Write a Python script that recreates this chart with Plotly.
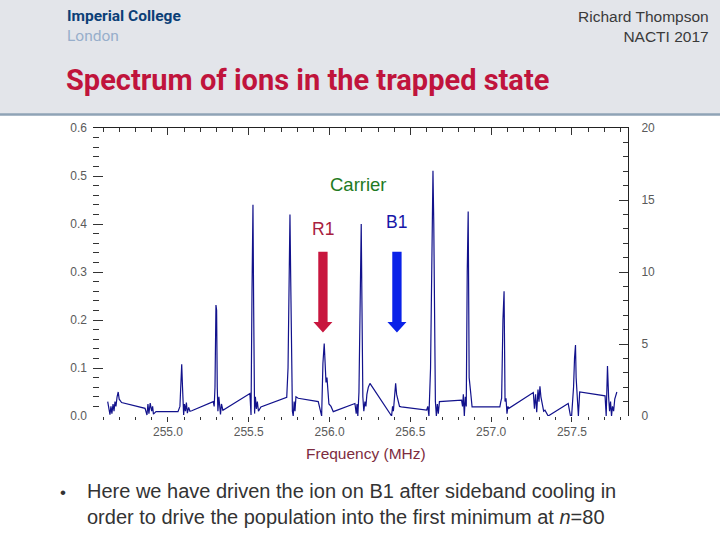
import plotly.graph_objects as go

# ---- data ----
freq_mhz = [
    254.627, 254.641, 254.647, 254.653, 254.660, 254.666, 254.672, 254.678, 254.685, 254.692,
    254.698, 254.713, 254.858, 254.870, 254.876, 254.882, 254.890, 254.899, 254.905, 254.910,
    254.926, 255.062, 255.074, 255.080, 255.085, 255.090, 255.093, 255.097, 255.102, 255.108,
    255.114, 255.120, 255.128, 255.136, 255.147, 255.280, 255.286, 255.291, 255.297, 255.301,
    255.305, 255.309, 255.315, 255.319, 255.325, 255.331, 255.340, 255.507, 255.514, 255.520,
    255.526, 255.530, 255.536, 255.541, 255.547, 255.553, 255.560, 255.575, 255.735, 255.743,
    255.749, 255.755, 255.759, 255.765, 255.770, 255.775, 255.781, 255.786, 255.792, 255.806,
    255.930, 255.951, 255.959, 255.967, 255.972, 255.978, 255.984, 255.990, 255.996, 256.009,
    256.023, 256.157, 256.165, 256.170, 256.175, 256.182, 256.190, 256.196, 256.200, 256.206,
    256.212, 256.219, 256.225, 256.231, 256.240, 256.250, 256.384, 256.390, 256.395, 256.402,
    256.409, 256.415, 256.423, 256.433, 256.444, 256.601, 256.608, 256.615, 256.625, 256.633,
    256.640, 256.645, 256.650, 256.655, 256.661, 256.667, 256.673, 256.680, 256.817, 256.823,
    256.828, 256.834, 256.840, 256.846, 256.852, 256.858, 256.864, 256.870, 256.876, 256.882,
    257.054, 257.060, 257.065, 257.073, 257.080, 257.086, 257.092, 257.098, 257.104, 257.110,
    257.261, 257.268, 257.275, 257.282, 257.290, 257.296, 257.302, 257.308, 257.316, 257.325,
    257.333, 257.353, 257.477, 257.485, 257.491, 257.498, 257.510, 257.516, 257.522, 257.526,
    257.530, 257.535, 257.540, 257.548, 257.705, 257.712, 257.720, 257.727, 257.733, 257.739,
    257.745, 257.751, 257.758, 257.765, 257.778,
]
signal = [
    0.030, 0.003, 0.020, 0.005, 0.025, 0.010, 0.030, 0.020, 0.040, 0.050,
    0.035, 0.028, 0.016, 0.002, 0.025, 0.005, 0.027, 0.010, 0.020, 0.004,
    0.009, 0.009, 0.020, 0.080, 0.108, 0.060, 0.020, 0.002, 0.025, 0.010,
    0.028, 0.006, 0.018, 0.010, 0.011, 0.030, 0.020, 0.060, 0.231, 0.220,
    0.060, 0.010, 0.040, 0.028, 0.003, 0.025, 0.012, 0.047, 0.002, 0.260,
    0.440, 0.240, 0.005, 0.040, 0.015, 0.030, 0.010, 0.019, 0.039, 0.100,
    0.360, 0.420, 0.300, 0.050, 0.010, 0.000, 0.030, 0.010, 0.040, 0.037,
    0.030, 0.000, 0.110, 0.151, 0.110, 0.070, 0.080, 0.040, 0.025, 0.020,
    0.009, 0.026, 0.005, 0.025, 0.000, 0.050, 0.340, 0.400, 0.250, 0.040,
    0.010, 0.030, 0.020, 0.045, 0.060, 0.068, 0.000, 0.020, 0.010, 0.050,
    0.068, 0.045, 0.030, 0.020, 0.019, 0.0125, 0.020, 0.000, 0.100, 0.400,
    0.511, 0.400, 0.060, 0.030, 0.000, 0.025, 0.005, 0.030, 0.033, 0.020,
    0.045, 0.000, 0.040, 0.020, 0.300, 0.426, 0.080, 0.050, 0.040, 0.019,
    0.019, 0.030, 0.037, 0.200, 0.260, 0.030, 0.037, 0.005, 0.020, 0.016,
    0.049, 0.015, 0.045, 0.008, 0.055, 0.030, 0.062, 0.040, 0.025, 0.010,
    0.012, 0.000, 0.026, 0.010, 0.000, 0.000, 0.060, 0.120, 0.148, 0.080,
    0.047, 0.030, 0.000, 0.050, 0.042, 0.000, 0.104, 0.040, 0.010, 0.030,
    0.000, 0.020, 0.010, 0.035, 0.050,
]
x_tick_vals = [255.0, 255.5, 256.0, 256.5, 257.0, 257.5]
x_tick_text = ["255.0", "255.5", "256.0", "256.5", "257.0", "257.5"]
left_tick_vals = [0.0, 0.1, 0.2, 0.3, 0.4, 0.5, 0.6]
left_tick_text = ["0.0", "0.1", "0.2", "0.3", "0.4", "0.5", "0.6"]
right_tick_vals = [0, 5, 10, 15, 20]
right_tick_text = ["0", "5", "10", "15", "20"]

R1_FREQ = 255.959
B1_FREQ = 256.417
CARRIER_FREQ = 256.176

W, H = 720, 540
def px(x):
    return x / W
def py(y):
    return 1 - y / H

X_RANGE = [254.536, 257.847]
TICKFONT = dict(family="Liberation Sans, Arial, sans-serif", size=12, color="#5a5a5a")
ARIAL = "Liberation Sans, Arial, sans-serif"

fig = go.Figure()
fig.add_trace(go.Scatter(
    x=freq_mhz, y=signal, mode="lines",
    line=dict(color="#12128c", width=1.2),
    hoverinfo="skip", showlegend=False,
))
# empty trace so the mirrored top/right axes get drawn
fig.add_trace(go.Scatter(
    x=[None], y=[None], xaxis="x2", yaxis="y2", mode="lines",
    hoverinfo="skip", showlegend=False,
))

xdom = [px(93), px(628)]
ydom = [py(416), py(128)]

fig.update_layout(
    width=W, height=H,
    margin=dict(l=0, r=0, t=0, b=0, pad=0),
    paper_bgcolor="white", plot_bgcolor="white",
    showlegend=False,
    xaxis=dict(
        domain=xdom, range=X_RANGE, anchor="y",
        tickvals=x_tick_vals, ticktext=x_tick_text,
        ticks="outside", ticklen=5, tickcolor="#333", tickwidth=1,
        minor=dict(dtick=0.1, tick0=255.0, ticks="outside", ticklen=3, tickcolor="#333"),
        showline=False, showgrid=False, zeroline=False,
        tickfont=TICKFONT, automargin=False,
    ),
    xaxis2=dict(
        domain=xdom, range=X_RANGE, overlaying="x", side="top", anchor="y2",
        tickvals=x_tick_vals, ticks="inside", ticklen=7, tickcolor="#333",
        minor=dict(dtick=0.1, tick0=255.0, ticks="inside", ticklen=4, tickcolor="#333"),
        showline=True, linecolor="#222", linewidth=1,
        showticklabels=False, showgrid=False, zeroline=False, automargin=False,
    ),
    yaxis=dict(
        domain=ydom, range=[0, 0.6], anchor="x",
        tickvals=left_tick_vals, ticktext=left_tick_text,
        ticks="inside", ticklen=10, tickcolor="#333",
        minor=dict(dtick=0.02, ticks="inside", ticklen=6, tickcolor="#333"),
        showline=False, showgrid=False, zeroline=False,
        tickfont=TICKFONT, automargin=False, ticklabelstandoff=5,
    ),
    yaxis2=dict(
        domain=ydom, range=[0, 20], overlaying="y", side="right", anchor="x2",
        tickvals=right_tick_vals, ticktext=right_tick_text,
        ticks="inside", ticklen=9, tickcolor="#333",
        minor=dict(dtick=1, ticks="inside", ticklen=5, tickcolor="#333"),
        showline=True, linecolor="#222", linewidth=1,
        showgrid=False, zeroline=False,
        tickfont=TICKFONT, automargin=False, ticklabelstandoff=10,
    ),
)

shapes = [
    dict(type="rect", xref="paper", yref="paper", x0=0, x1=1, y0=py(114), y1=1,
         fillcolor="#E3E5EA", line=dict(width=0), layer="below"),
    dict(type="line", xref="paper", yref="paper", x0=0, x1=1, y0=py(114.5), y1=py(114.5),
         line=dict(color="#8FA3B6", width=2.5)),
]

def arrow(cx, color):
    hw, hh = 0.0288, 0.0588
    top, neck, tip = 0.342, 0.196, 0.174
    path = (f"M {cx-hw},{top} L {cx+hw},{top} L {cx+hw},{neck} L {cx+hh},{neck} "
            f"L {cx},{tip} L {cx-hh},{neck} L {cx-hw},{neck} Z")
    return dict(type="path", xref="x", yref="y", path=path,
                fillcolor=color, line=dict(width=0))

shapes.append(arrow(R1_FREQ, "#C8163E"))
shapes.append(arrow(B1_FREQ, "#0A22E8"))
fig.update_layout(shapes=shapes)

ann = []
ann.append(dict(text="<b>Imperial College</b><br><span style='color:#97AECB'>London</span>",
                xref="paper", yref="paper", x=px(65), y=py(26.5),
                xanchor="left", yanchor="middle", align="left", showarrow=False,
                font=dict(family="Roboto, sans-serif", size=15.5, color="#0B3F77")))
ann.append(dict(text="Richard Thompson<br>NACTI 2017", xref="paper", yref="paper", x=px(711), y=py(26.5),
                xanchor="right", yanchor="middle", align="right", showarrow=False,
                font=dict(family=ARIAL, size=15.5, color="#3A3A3A")))
ann.append(dict(text="<b>Spectrum of ions in the trapped state</b>", xref="paper", yref="paper",
                x=px(64), y=py(80), xanchor="left", yanchor="middle", showarrow=False,
                font=dict(family="Roboto, sans-serif", size=29, color="#C0143C")))
ann.append(dict(text="Carrier", xref="x", yref="y", x=CARRIER_FREQ, y=0.483,
                xanchor="center", yanchor="middle", showarrow=False,
                font=dict(family=ARIAL, size=18.5, color="#1E7A22")))
ann.append(dict(text="R1", xref="x", yref="y", x=R1_FREQ, y=0.39,
                xanchor="center", yanchor="middle", showarrow=False,
                font=dict(family=ARIAL, size=17.5, color="#A8203E")))
ann.append(dict(text="B1", xref="x", yref="y", x=B1_FREQ, y=0.404,
                xanchor="center", yanchor="middle", showarrow=False,
                font=dict(family=ARIAL, size=17.5, color="#1616A8")))
ann.append(dict(text="Frequency (MHz)", xref="paper", yref="paper", x=px(366), y=py(453),
                xanchor="center", yanchor="middle", showarrow=False,
                font=dict(family=ARIAL, size=15.5, color="#7E2C40")))
ann.append(dict(text="•", xref="paper", yref="paper", x=px(58), y=py(492),
                xanchor="left", yanchor="middle", showarrow=False,
                font=dict(family=ARIAL, size=17, color="#333333")))
ann.append(dict(text="Here we have driven the ion on B1 after sideband cooling in<br>"
                     "order to drive the population into the first minimum at <i>n</i>=80",
                xref="paper", yref="paper", x=px(85), y=py(504), xanchor="left", yanchor="middle",
                align="left", showarrow=False,
                font=dict(family=ARIAL, size=20, color="#333333")))
fig.update_layout(annotations=ann)

fig.write_html("out.html", config={"displayModeBar": False},
               post_script="document.body.style.margin='0';document.body.style.overflow='hidden';")
